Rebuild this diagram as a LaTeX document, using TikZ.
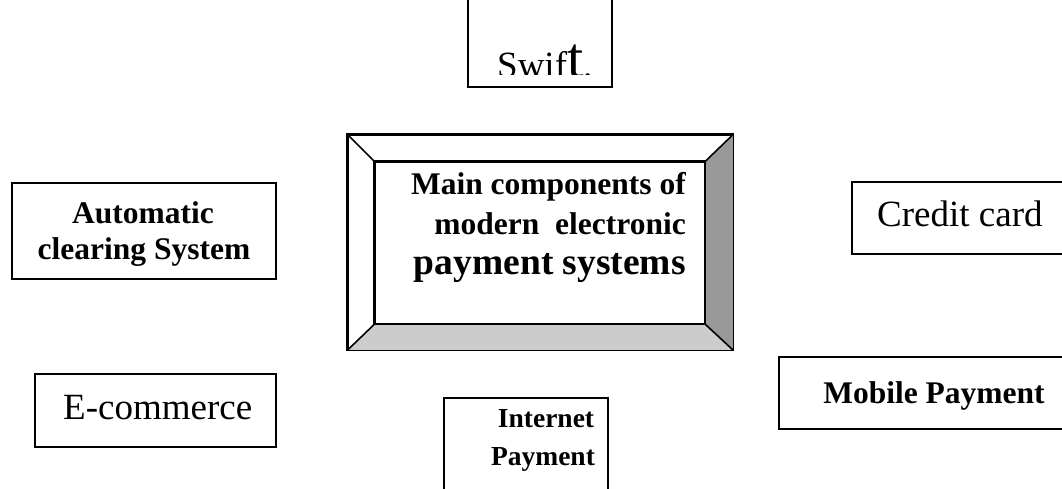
\documentclass[tikz,border=0pt]{standalone}
\usepackage{fontspec}
\setmainfont{Liberation Serif}
\definecolor{darkbevel}{HTML}{999999}
\definecolor{lightbevel}{HTML}{CCCCCC}
\begin{document}
\begin{tikzpicture}[x=1pt,y=-1pt,
  box/.style={draw=black,line width=1.6pt,inner sep=0pt,anchor=north west},
  lbl/.style={inner sep=0pt,anchor=base},
  bigb/.style={font=\fontsize{31.5}{36}\selectfont\bfseries},
  midb/.style={font=\fontsize{27.5}{32}\selectfont\bfseries},
  bigr/.style={font=\fontsize{37}{42}\selectfont}]
\useasboundingbox (0,0) rectangle (1062,489);
\clip (0,0) rectangle (1062,489);
% Swift
\node[box,minimum width=144pt,minimum height=96pt] (swiftbox) at (467,-10) {};
\begin{scope}
\clip (0,0) rectangle (1062,75);
\node[inner sep=0pt,anchor=base west,font=\fontsize{37}{42}\selectfont] (swift) at (497,78) {Swif{\fontsize{58}{58}\selectfont t}.};
\end{scope}
% main bevel box
\node[box,minimum width=385pt,minimum height=215pt] (mainout) at (347,134) {};
\node[box,minimum width=330pt,minimum height=162pt] (mainin) at (374,161) {};
\fill[darkbevel] (mainin.north east) -- (mainout.north east) -- (mainout.south east) -- (mainin.south east) -- cycle;
\fill[lightbevel] (mainin.south west) -- (mainin.south east) -- (mainout.south east) -- (mainout.south west) -- cycle;
\draw[line width=1.6pt] (mainout.north west) rectangle (mainout.south east);
\draw[line width=1.6pt] (mainin.north west) rectangle (mainin.south east);
\draw[line width=1.6pt] (mainout.north west) -- (mainin.north west)
  (mainout.north east) -- (mainin.north east)
  (mainout.south east) -- (mainin.south east)
  (mainout.south west) -- (mainin.south west);
\node[bigb,inner sep=0pt,anchor=base east] (m1) at (686,195) {Main components of};
\node[bigb,inner sep=0pt,anchor=base east] (m2) at (686,234) {modern\ \ electronic};
\node[font=\fontsize{37.5}{42}\selectfont\bfseries,inner sep=0pt,anchor=base east] (m3) at (686,274) {payment systems};
% Automatic clearing
\node[box,minimum width=264pt,minimum height=96pt] (acsbox) at (11,182) {};
\node[bigb,lbl] (acs1) at (143,223) {Automatic};
\node[bigb,lbl] (acs2) at (144,259) {clearing System};
% Credit card
\node[box,minimum width=260pt,minimum height=72pt] (ccbox) at (851,181) {};
\node[bigr,inner sep=0pt,anchor=base west] (cc) at (877,226) {Credit card};
% E-commerce
\node[box,minimum width=241pt,minimum height=73pt] (ecbox) at (34,373) {};
\node[bigr,inner sep=0pt,anchor=base west] (ec) at (63,419) {E-commerce};
% Mobile Payment
\node[box,minimum width=320pt,minimum height=72pt] (mpbox) at (778,356) {};
\node[bigb,lbl] (mp) at (934,403) {Mobile Payment};
% Internet Payment
\node[box,minimum width=164pt,minimum height=120pt] (ipbox) at (443,397) {};
\node[midb,lbl] (ip1) at (546,427) {Internet};
\node[midb,lbl] (ip2) at (543,465) {Payment};
\end{tikzpicture}
\end{document}
